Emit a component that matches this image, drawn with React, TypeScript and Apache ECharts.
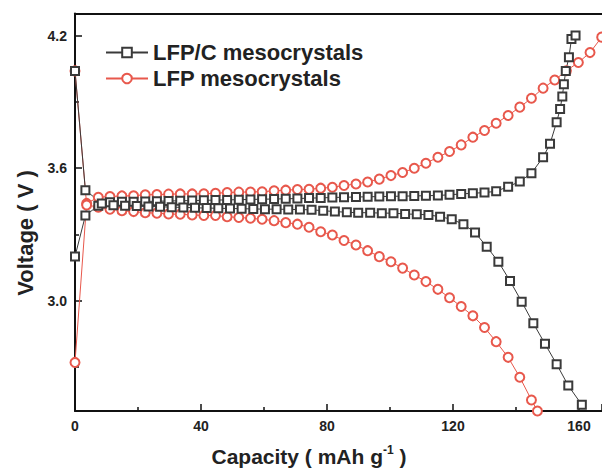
import React, { useEffect, useRef } from "react";
import * as echarts from "echarts";

// LFP/C mesocrystals — charge branch
const lfpcChargeX = [0, 3.3, 7.4, 11.1, 14.9, 18.6, 22.3, 26.0, 29.7, 33.4, 37.2, 40.9, 44.6, 48.3, 52.0, 55.7, 59.4, 63.2, 66.9, 70.6, 74.3, 78.0, 81.7, 85.4, 89.2, 92.9, 96.6, 100.3, 104.0, 107.7, 111.4, 115.2, 118.9, 122.6, 126.3, 130.0, 133.7, 137.5, 141.2, 144.9, 148.6, 150.8, 152.9, 154.0, 154.7, 155.2, 155.8, 156.8, 157.6, 158.9];
const lfpcChargeV = [3.20, 3.385, 3.43, 3.445, 3.447, 3.448, 3.449, 3.450, 3.451, 3.452, 3.453, 3.454, 3.455, 3.456, 3.457, 3.458, 3.459, 3.460, 3.461, 3.462, 3.464, 3.465, 3.467, 3.468, 3.469, 3.470, 3.471, 3.472, 3.473, 3.474, 3.475, 3.476, 3.479, 3.483, 3.486, 3.489, 3.495, 3.516, 3.539, 3.577, 3.649, 3.710, 3.808, 3.867, 3.924, 3.980, 4.040, 4.102, 4.184, 4.200];

// LFP/C mesocrystals — discharge branch
const lfpcDischargeX = [0, 3.3, 8.5, 12.2, 15.9, 19.6, 23.3, 27.0, 30.7, 34.4, 38.1, 41.8, 45.5, 49.2, 52.9, 56.6, 60.3, 64.0, 67.7, 71.4, 75.1, 78.8, 82.5, 86.3, 89.9, 93.7, 97.4, 101.1, 104.8, 108.5, 112.2, 115.9, 119.6, 123.3, 127.0, 130.7, 134.4, 138.1, 141.8, 145.5, 149.2, 152.9, 156.6, 160.9];
const lfpcDischargeV = [4.04, 3.50, 3.44, 3.432, 3.430, 3.428, 3.426, 3.425, 3.423, 3.422, 3.420, 3.419, 3.418, 3.417, 3.416, 3.415, 3.414, 3.414, 3.413, 3.412, 3.411, 3.407, 3.403, 3.400, 3.398, 3.398, 3.396, 3.396, 3.392, 3.391, 3.388, 3.380, 3.368, 3.346, 3.308, 3.244, 3.176, 3.089, 2.995, 2.897, 2.804, 2.712, 2.615, 2.528];

// LFP mesocrystals — charge branch
const lfpChargeX = [0, 3.7, 7.4, 11.1, 14.9, 18.6, 22.3, 26.0, 29.7, 33.4, 37.2, 40.9, 44.6, 48.3, 52.0, 55.7, 59.4, 63.2, 66.9, 70.6, 74.3, 78.0, 81.7, 85.4, 89.2, 92.9, 96.6, 100.3, 104.0, 107.7, 111.4, 115.2, 118.9, 122.6, 126.3, 130.0, 133.7, 137.5, 141.2, 144.9, 148.6, 152.3, 156.0, 159.8, 163.5, 167.2];
const lfpChargeV = [2.72, 3.44, 3.468, 3.471, 3.474, 3.475, 3.479, 3.480, 3.482, 3.483, 3.483, 3.484, 3.486, 3.489, 3.491, 3.492, 3.493, 3.497, 3.500, 3.503, 3.504, 3.509, 3.513, 3.521, 3.528, 3.537, 3.550, 3.566, 3.580, 3.599, 3.622, 3.649, 3.675, 3.705, 3.740, 3.770, 3.803, 3.838, 3.876, 3.916, 3.962, 3.999, 4.041, 4.078, 4.123, 4.193];

// LFP mesocrystals — discharge branch
const lfpDischargeX = [0, 3.7, 7.4, 11.1, 14.9, 18.6, 22.3, 26.0, 29.7, 33.4, 37.2, 40.9, 44.6, 48.3, 52.0, 55.7, 59.4, 63.2, 66.9, 70.6, 74.3, 78.0, 81.7, 85.4, 89.2, 92.9, 96.6, 100.3, 104.0, 107.7, 111.4, 115.2, 118.9, 122.6, 126.3, 130.0, 133.7, 137.5, 141.2, 144.9, 146.8];
const lfpDischargeV = [4.04, 3.433, 3.423, 3.414, 3.407, 3.403, 3.398, 3.396, 3.392, 3.391, 3.388, 3.385, 3.385, 3.380, 3.376, 3.373, 3.368, 3.362, 3.353, 3.346, 3.332, 3.312, 3.297, 3.272, 3.252, 3.226, 3.199, 3.176, 3.147, 3.116, 3.086, 3.051, 3.013, 2.973, 2.931, 2.878, 2.814, 2.743, 2.653, 2.550, 2.500];

const seriesNames = ["LFP/C mesocrystals", "LFP mesocrystals"];
const yMajorTicks = [3.0, 3.6, 4.2];
const yMinorTicks = [2.7, 3.3, 3.9];
const xTickInterval = 40;

const zip = (xs: number[], ys: number[]) => xs.map((x, i) => [x, ys[i]]);

export default function App() {
  const ref = useRef<HTMLDivElement>(null);
  useEffect(() => {
    if (!ref.current) return;
    const chart = echarts.init(ref.current, null, { renderer: "svg" });
    const black = "#3a3a3a";
    const red = "#e8584c";
    const labelFont = { fontFamily: "Arial", fontWeight: "bold" as const, fontSize: 14, color: "#222" };
    const mkSeries = (name: string, data: number[][], color: string, symbol: string, size: number) => ({
      type: "line",
      name,
      data,
      symbol,
      symbolSize: size,
      showAllSymbol: true,
      lineStyle: { color, width: 1 },
      itemStyle: { color, borderWidth: 1 },
      emphasis: { disabled: true },
      z: 3,
    });
    chart.setOption({
      animation: false,
      backgroundColor: "#fff",
      grid: { left: 75, right: 0, top: 13.5, bottom: 58, containLabel: false },
      legend: {
        data: seriesNames,
        orient: "vertical",
        left: 100,
        top: 36,
        itemWidth: 42,
        itemHeight: 12,
        itemGap: 3,
        textStyle: { fontFamily: "Arial", fontWeight: "bold", fontSize: 22, color: "#222", lineHeight: 23 },
      },
      xAxis: [
        {
          type: "value",
          min: 0,
          max: 167.3,
          interval: xTickInterval,
          axisLine: { show: true, onZero: false, lineStyle: { color: "#111", width: 2 } },
          axisTick: { show: true, inside: true, length: 7, lineStyle: { color: "#111", width: 1.5 } },
          minorTick: { show: true, splitNumber: 2, length: 4, lineStyle: { color: "#111", width: 1.5 } },
          splitLine: { show: false },
          axisLabel: { ...labelFont, margin: 8, showMaxLabel: false },
        },
        {
          type: "value",
          position: "top",
          min: 0,
          max: 167.3,
          axisLine: { show: true, onZero: false, lineStyle: { color: "#111", width: 2 } },
          axisTick: { show: false },
          axisLabel: { show: false },
          splitLine: { show: false },
        },
      ],
      yAxis: [
        {
          type: "value",
          min: 2.5,
          max: 4.3,
          axisLine: { show: true, onZero: false, lineStyle: { color: "#111", width: 2 } },
          axisTick: { show: true, inside: true, length: 7, customValues: yMajorTicks, lineStyle: { color: "#111", width: 1.5 } },
          axisLabel: { ...labelFont, margin: 8, customValues: yMajorTicks, formatter: (v: number) => v.toFixed(1) },
          splitLine: { show: false },
        },
        {
          type: "value",
          position: "left",
          min: 2.5,
          max: 4.3,
          axisLine: { show: false },
          axisTick: { show: true, inside: true, length: 4, customValues: yMinorTicks, lineStyle: { color: "#111", width: 1.5 } },
          axisLabel: { show: false },
          splitLine: { show: false },
        },
      ],
      graphic: [
        {
          type: "text",
          x: 25,
          y: 233,
          rotation: Math.PI / 2,
          style: { text: "Voltage ( V )", font: "bold 22px Arial", fill: "#222", align: "center", verticalAlign: "middle" },
        },
        {
          type: "text",
          x: 309,
          y: 456,
          style: {
            text: "Capacity ( mAh g{sup|-1} )",
            font: "bold 21px Arial",
            fill: "#222",
            align: "center",
            verticalAlign: "middle",
            rich: { sup: { font: "bold 12px Arial", fill: "#222", padding: [0, 0, 12, 0] } },
          },
        },
      ],
      series: [
        mkSeries(seriesNames[1], zip(lfpChargeX, lfpChargeV), red, "emptyCircle", 9),
        mkSeries(seriesNames[1], zip(lfpDischargeX, lfpDischargeV), red, "emptyCircle", 9),
        mkSeries(seriesNames[0], zip(lfpcChargeX, lfpcChargeV), black, "emptyRect", 8),
        mkSeries(seriesNames[0], zip(lfpcDischargeX, lfpcDischargeV), black, "emptyRect", 8),
      ],
    });
    return () => chart.dispose();
  }, []);
  return <div ref={ref} style={{ position: "fixed", left: 0, top: 0, width: 602, height: 469 }} />;
}
